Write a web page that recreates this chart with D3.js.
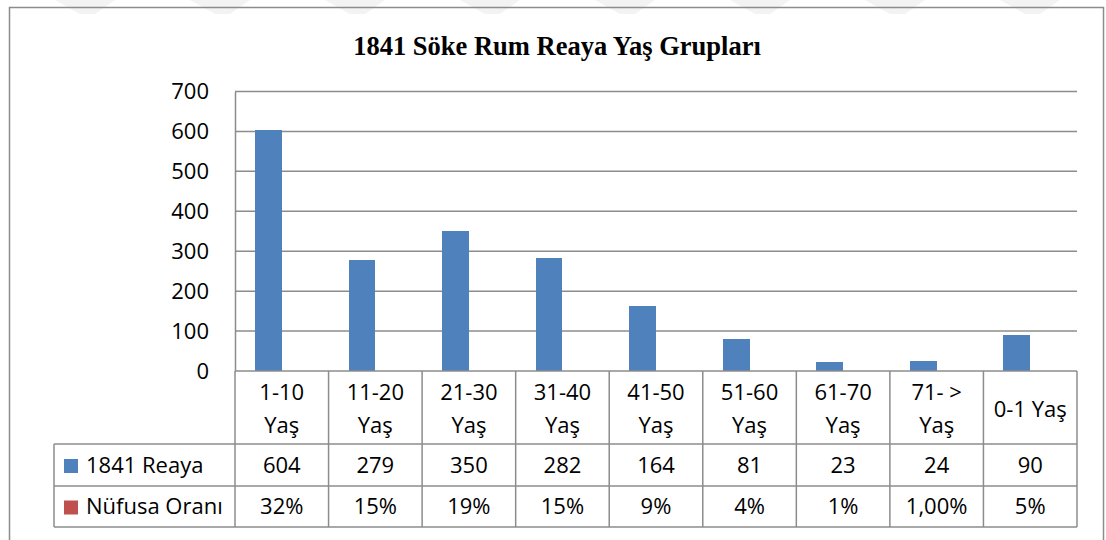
<!DOCTYPE html>
<html lang="tr">
<head>
<meta charset="UTF-8">
<title>1841 Söke Rum Reaya Yaş Grupları</title>
<style>
  body { margin: 0; background: #fff; }
  svg { display: block; }
  text { font-family: "Open Sans", "Noto Sans", sans-serif; fill: #000; }
</style>
</head>
<body>
<div id="chart"></div>
<script src="https://d3js.org/d3.v7.min.js"></script>
<script>
    // Data
    var categories = ["1-10 Yaş", "11-20 Yaş", "21-30 Yaş", "31-40 Yaş", "41-50 Yaş",
                      "51-60 Yaş", "61-70 Yaş", "71- > Yaş", "0-1 Yaş"];
    var headerLines = [["1-10", "Yaş"], ["11-20", "Yaş"], ["21-30", "Yaş"], ["31-40", "Yaş"],
                       ["41-50", "Yaş"], ["51-60", "Yaş"], ["61-70", "Yaş"], ["71- >", "Yaş"], ["0-1 Yaş"]];
    var seriesNames = ["1841 Reaya", "Nüfusa Oranı"];
    var reaya = [604, 279, 350, 282, 164, 81, 23, 24, 90];
    var oran = [0.32, 0.15, 0.19, 0.15, 0.09, 0.04, 0.01, 0.01, 0.05];
    var oranLabels = ["32%", "15%", "19%", "15%", "9%", "4%", "1%", "1,00%", "5%"];
    var yTicks = [0, 100, 200, 300, 400, 500, 600, 700];
    var colors = ["#4F81BD", "#C0504D"];

    var W = 1106, H = 540;
    var plot = {left: 235, right: 1077, top: 91.5, bottom: 371};
    var rows = {header: 444, r1: 486, r2: 527};
    var legendLeft = 54;
    var lineColor = "#8c8c8c";

    var svg = d3.select("#chart").append("svg")
        .attr("width", W)
        .attr("height", H);

    // faint watermark stripes at the very top
    var stripes = d3.range(8).map(function(i) { return 55 + i * 135; });
    svg.append("g").selectAll("path")
        .data(stripes)
        .enter().append("path")
        .attr("d", function(x) { return "M" + x + ",0 L" + (x + 60) + ",0 L" + (x + 40) + ",14 L" + (x + 25) + ",14 Z"; })
        .attr("fill", "#f3f3f3");

    // outer frame
    svg.append("rect")
        .attr("x", 9.5).attr("y", 7.5)
        .attr("width", 1094).attr("height", 560)
        .attr("fill", "none")
        .attr("stroke", "#8c8c8c")
        .attr("stroke-width", 1.5);

    // title
    svg.append("text")
        .attr("x", 557).attr("y", 55)
        .attr("text-anchor", "middle")
        .style("font-family", "'Liberation Serif', 'Times New Roman', serif")
        .style("font-weight", "bold")
        .style("font-size", "26.5px")
        .text("1841 Söke Rum Reaya Yaş Grupları");

    // scales
    var x0 = d3.scaleBand().domain(categories).range([plot.left, plot.right]).padding(0);
    var x1 = d3.scaleBand().domain(seriesNames).range([0, x0.bandwidth()])
        .paddingInner(0).paddingOuter(0.75);
    var y = d3.scaleLinear().domain([0, 700]).range([plot.bottom, plot.top]);

    // gridlines
    svg.append("g").selectAll("line")
        .data(yTicks.filter(function(d) { return d > 0; }))
        .enter().append("line")
        .attr("x1", plot.left).attr("x2", plot.right)
        .attr("y1", function(d) { return y(d); })
        .attr("y2", function(d) { return y(d); })
        .attr("stroke", lineColor)
        .attr("stroke-width", 1.5);

    // y axis
    var yAxis = svg.append("g")
        .attr("transform", "translate(" + plot.left + ",0)")
        .call(d3.axisLeft(y).tickValues(yTicks).tickSize(0).tickPadding(26));
    yAxis.select(".domain").attr("stroke", lineColor).attr("stroke-width", 1.5);
    yAxis.selectAll("text")
        .style("font-family", "'Open Sans', sans-serif")
        .style("font-size", "22px")
        .attr("fill", "#000");

    // bars
    var barData = [];
    categories.forEach(function(c, i) {
        barData.push({cat: c, s: seriesNames[0], v: reaya[i], color: colors[0]});
        barData.push({cat: c, s: seriesNames[1], v: oran[i], color: colors[1]});
    });
    svg.append("g").selectAll("rect")
        .data(barData)
        .enter().append("rect")
        .attr("x", function(d) { return x0(d.cat) + x1(d.s); })
        .attr("width", x1.bandwidth())
        .attr("y", function(d) { return y(d.v); })
        .attr("height", function(d) { return y(0) - y(d.v); })
        .attr("fill", function(d) { return d.color; })
        .attr("shape-rendering", "crispEdges");

    // data table
    var table = svg.append("g")
        .attr("fill", "none")
        .attr("stroke", lineColor)
        .attr("stroke-width", 1.5);
    // horizontal lines
    [[plot.left, plot.bottom], [legendLeft, rows.header], [legendLeft, rows.r1], [legendLeft, rows.r2]]
        .forEach(function(p) {
            table.append("line").attr("x1", p[0]).attr("x2", plot.right)
                .attr("y1", p[1]).attr("y2", p[1]);
        });
    // vertical lines
    var bounds = categories.map(function(c) { return x0(c); }).concat([plot.right]);
    table.selectAll(".v").data(bounds).enter().append("line")
        .attr("x1", function(d) { return d; }).attr("x2", function(d) { return d; })
        .attr("y1", plot.bottom).attr("y2", rows.r2);
    table.append("line").attr("x1", legendLeft).attr("x2", legendLeft)
        .attr("y1", rows.header).attr("y2", rows.r2);

    var fs = "22px";
    // header labels
    var head = svg.append("g").selectAll("text")
        .data(categories)
        .enter().append("text")
        .attr("text-anchor", "middle")
        .style("font-size", fs)
        .attr("x", function(c) { return x0(c) + x0.bandwidth() / 2; });
    head.each(function(c, i) {
        var lines = headerLines[i];
        var t = d3.select(this);
        var midY = (plot.bottom + rows.header) / 2 + 1.5;
        var start = midY - (lines.length - 1) * 16.5;
        lines.forEach(function(l, k) {
            t.append("tspan")
                .attr("x", x0(c) + x0.bandwidth() / 2)
                .attr("y", start + k * 33)
                .attr("dy", "0.35em")
                .text(l);
        });
    });

    // value rows
    var rowMids = [(rows.header + rows.r1) / 2, (rows.r1 + rows.r2) / 2];
    var rowTexts = [reaya.map(String), oranLabels];
    rowTexts.forEach(function(vals, r) {
        svg.append("g").selectAll("text")
            .data(vals)
            .enter().append("text")
            .attr("text-anchor", "middle")
            .style("font-size", fs)
            .attr("x", function(d, i) { return x0(categories[i]) + x0.bandwidth() / 2; })
            .attr("y", rowMids[r])
            .attr("dy", "0.35em")
            .text(function(d) { return d; });
    });

    // legend keys in the table
    seriesNames.forEach(function(name, r) {
        svg.append("rect")
            .attr("x", 64).attr("y", rowMids[r] - 6)
            .attr("width", 14).attr("height", 14)
            .attr("fill", colors[r]);
        svg.append("text")
            .attr("x", 86).attr("y", rowMids[r])
            .attr("dy", "0.35em")
            .style("font-size", fs)
            .text(name);
    });
</script>
</body>
</html>
